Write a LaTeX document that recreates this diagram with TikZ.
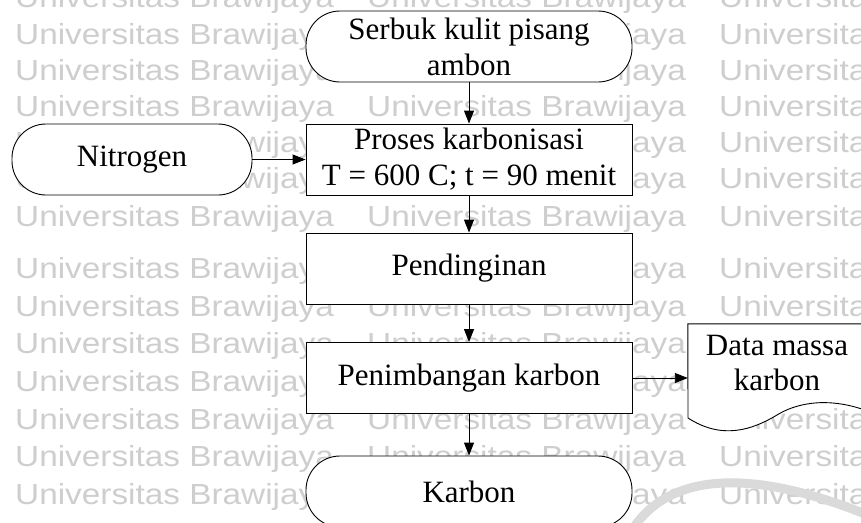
\documentclass[tikz,border=0pt]{standalone}
\usepackage{fontspec}
\setmainfont{Liberation Serif}
\newfontfamily\wmfont{Liberation Sans}
\usetikzlibrary{arrows.meta}
\definecolor{wmgray}{RGB}{206,206,206}
\definecolor{logogray}{RGB}{218,218,218}
\tikzset{
  box/.style={draw, line width=0.9pt, fill=white, minimum width=326pt, minimum height=71pt, inner sep=0pt, align=center, font=\fontsize{31}{36}\selectfont},
  term/.style={box, rounded corners=34pt},
  flow/.style={line width=0.9pt, -{Triangle[length=13pt,width=10pt]}},
  wm/.style={text=wmgray, inner sep=0pt, anchor=base west, font=\wmfont\fontsize{29}{30}\selectfont},
  lbl/.style={inner sep=0pt, align=center, font=\fontsize{31}{35}\selectfont}
}
\begin{document}
\begin{tikzpicture}[x=1pt,y=-1pt]
\useasboundingbox (0,0) rectangle (861,522);
\clip (0,0) rectangle (861,522);
\fill[white] (0,0) rectangle (861,522);
% watermark
\foreach \yy [count=\i] in {8,44,80,116,152,188,226,278,316,353,391,429,466,504}{
  \foreach \xx [count=\j] in {15,367,719}{
    \node[wm] (wm-\i-\j) at (\xx,\yy) {\scalebox{1.15}[1]{Universitas Brawijaya}};
  }
}
% faint logo arc
\draw[logogray, line width=9pt] (632,530) .. controls (668,474) and (748,466) .. (870,516);
% nodes
\node[term] (serbuk) at (469,46.5) {Serbuk kulit pisang\\ambon};
\node[term, minimum width=240pt] (nitro) at (132,159.5) {Nitrogen};
\node[box] (proses) at (469,159.5) {Proses karbonisasi\\T = 600 C; t = 90 menit};
\node[box] (dingin) at (469,268.5) {Pendinginan};
\node[box] (timbang) at (469,378) {Penimbangan karbon};
\node[term] (karbon) at (469,491.5) {Karbon};
% document shape
\node[inner sep=0pt, minimum width=182pt, minimum height=94pt] (data) at (779,371) {};
\draw[line width=0.9pt, fill=white] (data.north west) -- (data.north east) -- (870,412)
  .. controls (840,400) and (805,398) .. (777,415)
  .. controls (752,430) and (722,440) .. (688,418) -- cycle;
\node[lbl] (datatext) at (777,362.5) {Data massa\\karbon};
% connectors
\draw[flow] (serbuk.south) -- (proses.north);
\draw[flow] (nitro.east) -- (nitro.east -| proses.west);
\draw[flow] (proses.south) -- (dingin.north);
\draw[flow] (dingin.south) -- (timbang.north);
\draw[flow] (timbang.east) -- (timbang.east -| data.west);
\draw[flow] (timbang.south) -- (karbon.north);
\end{tikzpicture}
\end{document}
